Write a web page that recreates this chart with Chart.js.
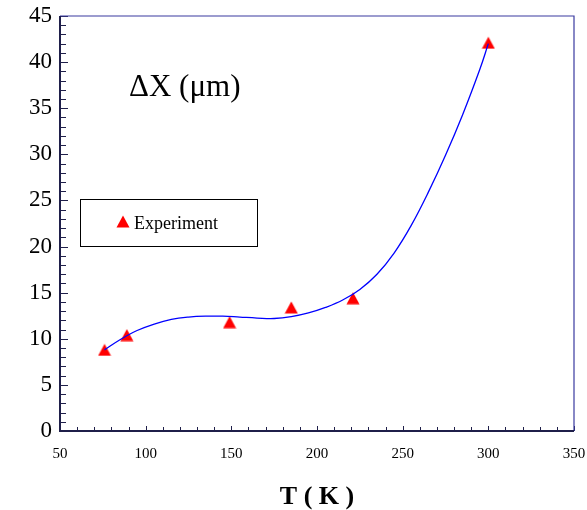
<!DOCTYPE html>
<html>
<head>
<meta charset="utf-8">
<script src="https://cdn.jsdelivr.net/npm/chart.js@4.4.1/dist/chart.umd.min.js"></script>
<style>
  html, body { margin: 0; padding: 0; background: #fff; }
  #wrap { width: 587px; height: 510px; position: relative; }
</style>
</head>
<body>
<div id="wrap"><canvas id="dx"></canvas></div>
<script>
// measured points
const tempK = [76, 89, 149, 185, 221, 300]
const deltaX = [8.8, 10.4, 11.8, 13.4, 14.4, 42.1]

// trend curve through the measurements
const curveT = [76, 85, 95, 105, 115, 125, 135, 145, 155, 165, 175, 185, 195, 205, 215, 225, 235, 245, 255, 265, 275, 285, 295, 300]
const curveDX = [8.8, 9.9, 10.9, 11.6, 12.1, 12.35, 12.45, 12.45, 12.35, 12.25, 12.2, 12.4, 12.8, 13.4, 14.2, 15.35, 17.0, 19.3, 22.3, 25.9, 29.9, 34.3, 39.2, 42.0]

const xTicks = [50, 100, 150, 200, 250, 300, 350]
const yTicks = [0, 5, 10, 15, 20, 25, 30, 35, 40, 45]

const serif = '"Liberation Serif", "Times New Roman", serif'

// triangle marker, centred on its bounding box
const tri = document.createElement('canvas')
tri.width = 14
tri.height = 13
const tctx = tri.getContext('2d')
tctx.fillStyle = '#ff0000'
tctx.beginPath()
tctx.moveTo(0.5, 12.5)
tctx.lineTo(7, 0.5)
tctx.lineTo(13.5, 12.5)
tctx.closePath()
tctx.fill()

const noPad = s => {
  s.paddingLeft = 0
  s.paddingRight = 0
  s.paddingTop = 0
  s.paddingBottom = 0
}

const frame = {
  id: 'frame',
  afterDraw(chart) {
    const { ctx, chartArea: a, scales: { x, y } } = chart
    ctx.save()

    // minor / major ticks pointing inward
    ctx.strokeStyle = '#1f1f4a'
    ctx.lineWidth = 1
    ctx.beginPath()
    for (let v = y.min; v <= y.max; v += 1) {
      const py = Math.round(y.getPixelForValue(v)) + 0.5
      const len = v % 5 === 0 ? 8 : 6
      ctx.moveTo(a.left, py)
      ctx.lineTo(a.left + len, py)
    }
    for (let v = x.min; v <= x.max; v += 10) {
      const px = Math.round(x.getPixelForValue(v)) + 0.5
      const len = v % 50 === 0 ? 5 : 4
      ctx.moveTo(px, a.bottom)
      ctx.lineTo(px, a.bottom - len)
    }
    ctx.stroke()

    // top and right border
    ctx.strokeStyle = '#3a3aa0'
    ctx.lineWidth = 1.2
    ctx.beginPath()
    ctx.moveTo(a.left, a.top)
    ctx.lineTo(a.right, a.top)
    ctx.lineTo(a.right, a.bottom)
    ctx.stroke()

    // axis lines
    ctx.strokeStyle = '#1f1f4a'
    ctx.lineWidth = 2
    ctx.beginPath()
    ctx.moveTo(a.left, a.top)
    ctx.lineTo(a.left, a.bottom)
    ctx.lineTo(a.right, a.bottom)
    ctx.stroke()

    // quantity label
    ctx.fillStyle = '#000'
    ctx.font = '31px ' + serif
    ctx.textAlign = 'left'
    ctx.textBaseline = 'alphabetic'
    ctx.fillText('\u0394X (\u03bcm)', 129, 96)

    // legend box
    ctx.strokeStyle = '#000'
    ctx.lineWidth = 1
    ctx.strokeRect(80.5, 199.5, 177, 47)
    ctx.drawImage(tri, 116, 215)
    ctx.font = '18px ' + serif
    ctx.fillText('Experiment', 134, 229)

    ctx.restore()
  }
}

new Chart(document.getElementById('dx'), {
  type: 'scatter',
  data: {
    datasets: [
      {
        label: 'fit',
        data: curveT.map((t, i) => ({ x: t, y: curveDX[i] })),
        showLine: true,
        borderColor: '#0000ff',
        borderWidth: 1.3,
        pointRadius: 0,
        tension: 0.4,
        order: 0,
      },
      {
        label: 'Experiment',
        data: tempK.map((t, i) => ({ x: t, y: deltaX[i] })),
        pointStyle: tri,
        pointRadius: 7,
        order: 1,
      },
    ],
  },
  options: {
    responsive: true,
    maintainAspectRatio: false,
    animation: false,
    layout: { padding: { top: 16, right: 13, left: 0, bottom: 0 } },
    plugins: { legend: { display: false }, tooltip: { enabled: false } },
    scales: {
      x: {
        type: 'linear',
        min: xTicks[0],
        max: xTicks[xTicks.length - 1],
        afterBuildTicks: s => { s.ticks = xTicks.map(v => ({ value: v })) },
        afterFit: s => { s.height = 79; noPad(s) },
        grid: { display: false, drawTicks: false },
        border: { display: false },
        ticks: { color: '#000', padding: 14, font: { family: serif, size: 15 } },
        title: {
          display: true,
          text: 'T ( K )',
          color: '#000',
          padding: { top: 0, bottom: 0 },
          font: { family: serif, size: 26, weight: 'bold', lineHeight: 1.0 },
        },
      },
      y: {
        type: 'linear',
        min: yTicks[0],
        max: yTicks[yTicks.length - 1],
        afterBuildTicks: s => { s.ticks = yTicks.map(v => ({ value: v })) },
        afterFit: s => { s.width = 60; noPad(s) },
        grid: { display: false, drawTicks: false },
        border: { display: false },
        ticks: { color: '#000', padding: 8, font: { family: serif, size: 23 } },
      },
    },
  },
  plugins: [frame],
})
</script>
</body>
</html>
